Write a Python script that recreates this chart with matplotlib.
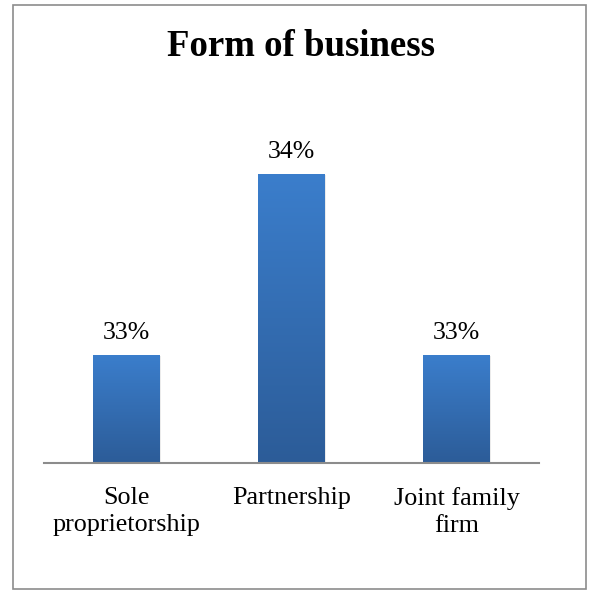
import numpy as np
import matplotlib.pyplot as plt
from matplotlib.patches import Rectangle
from matplotlib.colors import LinearSegmentedColormap

# Chart data
categories = ['Sole\nproprietorship', 'Partnership', 'Joint family\nfirm']
values = [33, 34, 33]
value_labels = ['33%', '34%', '33%']
title = 'Form of business'

plt.rcParams['font.family'] = ['Liberation Serif', 'DejaVu Serif']

fig = plt.figure(figsize=(5.91, 5.90), dpi=100)
W, H = 591, 590

# outer chart border
fig.patches.append(Rectangle((13 / W, 1 - 589 / H), 573 / W, 584 / H,
                             transform=fig.transFigure, fill=False,
                             edgecolor='#8c8c8c', linewidth=1.2))

# plot area
ax = fig.add_axes([44 / W, 1 - 463 / H, 495 / W, 363 / H])
ymin = 32.403
ax.set_ylim(ymin, ymin + 363 / 181)
ax.set_xlim(-0.5, 2.5)

x = np.arange(len(categories))
bars = ax.bar(x, values, width=0.406, color='none', edgecolor='none', zorder=2)

# vertical gradient fill for each bar
cmap = LinearSegmentedColormap.from_list('bluegrad', ['#2c5c98', '#3b7ecc'])
grad = np.linspace(0, 1, 256).reshape(-1, 1)
for b in bars:
    x0, w, h = b.get_x(), b.get_width(), b.get_height()
    # soft shadow
    ax.add_patch(Rectangle((x0 + 0.006, ymin), w, h - ymin - 0.005,
                           facecolor='#000000', alpha=0.08, edgecolor='none', zorder=1))
    im = ax.imshow(grad, cmap=cmap, origin='lower', aspect='auto',
                   extent=(x0, x0 + w, ymin, h), zorder=2)
    im.set_clip_path(b)

for xi, v, lab in zip(x, values, value_labels):
    ax.annotate(lab, (xi, v), xytext=(0, 8), textcoords='offset points',
                ha='center', va='bottom', fontsize=18.5)

ax.set_xticks(x)
ax.set_xticklabels(categories, fontsize=18.8, linespacing=1.32)
ax.tick_params(axis='x', length=0, pad=17)
ax.set_yticks([])
for s in ['left', 'right', 'top']:
    ax.spines[s].set_visible(False)
ax.spines['bottom'].set_color('#8c8c8c')
ax.spines['bottom'].set_linewidth(1.5)
ax.spines['bottom'].set_zorder(3)
ax.patch.set_visible(False)

fig.text(301 / W, 1 - 47 / H, title, ha='center', va='center',
         fontsize=26.5, fontweight='bold')

fig.savefig('out.png', dpi=100)
